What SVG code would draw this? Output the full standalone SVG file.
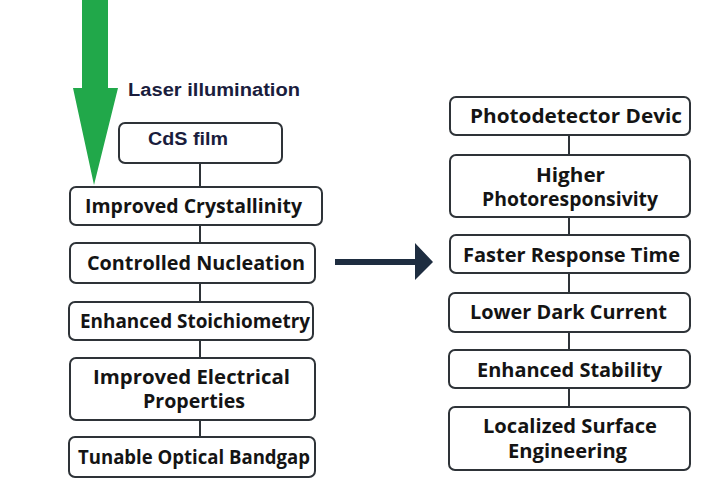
<svg xmlns="http://www.w3.org/2000/svg" width="708" height="500" viewBox="0 0 708 500">
<style>
.box{fill:#fff;stroke:#2e3338;stroke-width:2}
.t{font-family:"Open Sans","Liberation Sans",sans-serif;font-weight:700;font-size:19px;fill:#141414;text-anchor:middle}
.n{font-family:"Liberation Sans",Arial,sans-serif;font-size:18px;fill:#1a1d3d}
.c{stroke:#2e3338;stroke-width:2;fill:none}
</style>
<rect width="708" height="500" fill="#fff"/>
<g id="connectors">
<line class="c" x1="200" y1="163" x2="200" y2="187"/>
<line class="c" x1="200" y1="225" x2="200" y2="243"/>
<line class="c" x1="200" y1="283" x2="200" y2="302"/>
<line class="c" x1="200" y1="340" x2="200" y2="358"/>
<line class="c" x1="200" y1="420" x2="200" y2="437"/>
<line class="c" x1="569" y1="135" x2="569" y2="155"/>
<line class="c" x1="569" y1="217" x2="569" y2="235"/>
<line class="c" x1="569" y1="273" x2="569" y2="293"/>
<line class="c" x1="569" y1="332" x2="569" y2="350"/>
<line class="c" x1="569" y1="388" x2="569" y2="407"/>
<polygon points="335,259 415,259 415,243 433,262 415,280 415,265 335,265" fill="#1e2d40"/>
<polygon points="82,0 108,0 108,88 118,88 94,185 73,88 82,88" fill="#21a84a"/>
</g>
<g id="laser"><text class="t n" x="214" y="96" textLength="172" lengthAdjust="spacingAndGlyphs">Laser illumination</text></g>
<g id="cds"><rect class="box" x="119" y="123" width="163" height="40" rx="6"/><text class="t n" x="188" y="145" textLength="80" lengthAdjust="spacingAndGlyphs">CdS film</text></g>
<g id="n1"><rect class="box" x="70" y="187" width="252" height="38" rx="6"/><text class="t" x="193.5" y="213" textLength="217" lengthAdjust="spacingAndGlyphs">Improved Crystallinity</text></g>
<g id="n2"><rect class="box" x="70" y="243" width="245" height="40" rx="6"/><text class="t" x="196" y="270" textLength="218" lengthAdjust="spacingAndGlyphs">Controlled Nucleation</text></g>
<g id="n3"><rect class="box" x="69" y="302" width="244" height="38" rx="6"/><text class="t" x="195" y="328" textLength="230" lengthAdjust="spacingAndGlyphs">Enhanced Stoichiometry</text></g>
<g id="n4"><rect class="box" x="70" y="358" width="245" height="62" rx="6"/><text class="t" x="191.5" y="384" textLength="197" lengthAdjust="spacingAndGlyphs">Improved Electrical</text><text class="t" x="194" y="408" textLength="102" lengthAdjust="spacingAndGlyphs">Properties</text></g>
<g id="n5"><rect class="box" x="69" y="437" width="246" height="40" rx="6"/><text class="t" x="194" y="464" textLength="232" lengthAdjust="spacingAndGlyphs">Tunable Optical Bandgap</text></g>
<g id="r1"><rect class="box" x="450" y="97" width="240" height="38" rx="6"/><text class="t" x="576" y="123" textLength="212" lengthAdjust="spacingAndGlyphs">Photodetector Devic</text></g>
<g id="r2"><rect class="box" x="450" y="155" width="240" height="62" rx="6"/><text class="t" x="570.5" y="182" textLength="69" lengthAdjust="spacingAndGlyphs">Higher</text><text class="t" x="570" y="206" textLength="176" lengthAdjust="spacingAndGlyphs">Photoresponsivity</text></g>
<g id="r3"><rect class="box" x="450" y="235" width="240" height="38" rx="6"/><text class="t" x="571.5" y="262" textLength="217" lengthAdjust="spacingAndGlyphs">Faster Response Time</text></g>
<g id="r4"><rect class="box" x="449" y="293" width="241" height="39" rx="6"/><text class="t" x="568.5" y="319" textLength="197" lengthAdjust="spacingAndGlyphs">Lower Dark Current</text></g>
<g id="r5"><rect class="box" x="449" y="350" width="241" height="38" rx="6"/><text class="t" x="569.5" y="377" textLength="185" lengthAdjust="spacingAndGlyphs">Enhanced Stability</text></g>
<g id="r6"><rect class="box" x="449" y="407" width="241" height="63" rx="6"/><text class="t" x="570" y="433" textLength="174" lengthAdjust="spacingAndGlyphs">Localized Surface</text><text class="t" x="567.5" y="458" textLength="119" lengthAdjust="spacingAndGlyphs">Engineering</text></g>
</svg>
